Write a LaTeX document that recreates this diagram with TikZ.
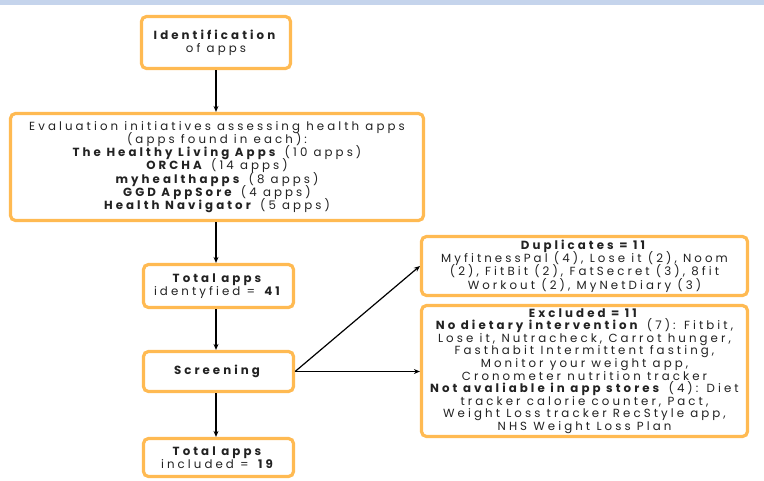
\documentclass[tikz,border=0pt]{standalone}
\usepackage{fontspec}
\setmainfont{Poppins}[LetterSpace=26]
\usetikzlibrary{arrows.meta}
\definecolor{boxorange}{HTML}{FFBA52}
\definecolor{bandblue}{HTML}{C5D4EC}
\definecolor{txt}{HTML}{222222}
\tikzset{
  box/.style={draw=boxorange, line width=3.2pt, rounded corners=5pt, fill=white,
    align=center, inner sep=0pt, text=txt,
    font={\fontsize{11.8}{13.2}\selectfont\lineskiplimit=-20pt}},
  arr/.style={draw=black, line width=1.2pt, -{Stealth[length=6pt,width=5pt]}},
}
\begin{document}
\begin{tikzpicture}[x=1pt,y=-1pt]
\useasboundingbox (0,0) rectangle (764,480);
\fill[bandblue] (0,0) rectangle (764,5);
\node[box, minimum width=149pt, minimum height=52pt] (ident) at (216,42.5)
  {\textbf{Identification}\\of apps};
\node[box, minimum width=413pt, minimum height=107pt] (eval) at (217,167)
  {Evaluation initiatives assessing health apps\\(apps found in each):\\
   \textbf{The Healthy Living Apps} (10 apps)\\
   \textbf{ORCHA} (14 apps)\\
   \textbf{myhealthapps} (8 apps)\\
   \textbf{GGD AppSore} (4 apps)\\
   \textbf{Health Navigator} (5 apps)};
\node[box, minimum width=150pt, minimum height=43pt] (total1) at (218.5,286)
  {\textbf{Total apps}\\identyfied = \textbf{41}};
\node[box, minimum width=150pt, minimum height=40pt] (screen) at (218.5,371.5)
  {\textbf{Screening}};
\node[box, minimum width=150pt, minimum height=38pt] (total2) at (218.5,457.5)
  {\textbf{Total apps}\\included = \textbf{19}};
\node[box, minimum width=326pt, minimum height=59pt] (dup) at (584.5,266)
  {\textbf{Duplicates = 11}\\
   MyfitnessPal (4), Lose it (2), Noom\\
   (2), FitBit (2), FatSecret (3), 8fit\\
   Workout (2), MyNetDiary (3)};
\node[box, minimum width=326pt, minimum height=131pt,
  font={\fontsize{11.8}{12.6}\selectfont\lineskiplimit=-20pt}] (excl) at (584.5,371)
  {\textbf{Excluded = 11}\\
   \textbf{No dietary intervention} (7): Fitbit,\\
   Lose it, Nutracheck, Carrot hunger,\\
   Fasthabit Intermittent fasting,\\
   Monitor your weight app,\\
   Cronometer nutrition tracker\\
   \textbf{Not avaliable in app stores} (4): Diet\\
   tracker calorie counter, Pact,\\
   Weight Loss tracker RecStyle app,\\
   NHS Weight Loss Plan};
\draw[arr] (ident.south) -- (ident.south |- eval.north);
\draw[arr] (ident.south |- eval.south) -- (ident.south |- total1.north);
\draw[arr] (ident.south |- total1.south) -- (ident.south |- screen.north);
\draw[arr] (ident.south |- screen.south) -- (ident.south |- total2.north);
\draw[arr] (screen.east) -- (dup.west);
\draw[arr] (screen.east) -- (screen.east -| excl.west);
\end{tikzpicture}
\end{document}
